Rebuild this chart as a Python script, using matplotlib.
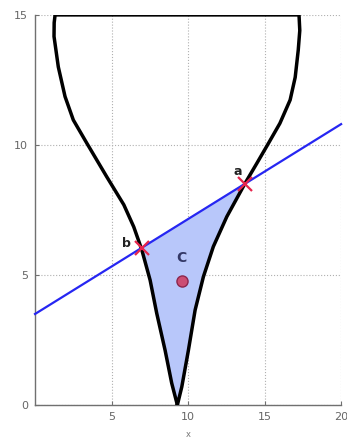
import matplotlib
matplotlib.use("Agg")
import matplotlib.pyplot as plt

# funnel boundary, both sides listed from the bottom tip upwards
left_x = [9.3, 8.93, 8.5, 7.95, 7.52, 6.97, 6.45, 5.8, 4.68, 3.38, 2.5, 1.96, 1.52, 1.24, 1.25, 1.31]
left_y = [0.0, 0.84, 2.1, 3.53, 4.8, 5.98, 6.85, 7.7, 8.78, 10.07, 10.96, 11.86, 13.0, 14.17, 14.7, 15.0]
right_x = [9.3, 9.59, 10.02, 10.46, 11.0, 11.65, 12.53, 13.73, 14.5, 15.25, 16.0, 16.67, 17.0, 17.2, 17.3, 17.25]
right_y = [0.0, 0.7, 2.1, 3.65, 4.93, 6.09, 7.24, 8.53, 9.3, 10.06, 10.83, 11.73, 12.6, 13.65, 14.4, 15.0]

# cutting line
line_x = [0, 20]
line_y = [3.5, 10.8]

# intersection points and interior point
pt_a = (13.7, 8.5)
pt_b = (6.97, 6.04)
pt_c = (9.6, 4.75)

fig = plt.figure(figsize=(3.47, 4.42), dpi=100)
ax = fig.add_axes([0.101, 0.0837, 0.882, 0.8826])

# shaded region below the line inside the funnel
poly_x = [pt_b[0]]
poly_y = [pt_b[1]]
for x, y in reversed(list(zip(left_x, left_y))):
    if y < pt_b[1] - 0.05:
        poly_x.append(x)
        poly_y.append(y)
for x, y in zip(right_x, right_y):
    if 0 < y < pt_a[1] - 0.05:
        poly_x.append(x)
        poly_y.append(y)
poly_x.append(pt_a[0])
poly_y.append(pt_a[1])
ax.fill(poly_x, poly_y, color=(0.72, 0.78, 0.98), zorder=1)

# outline: left side up, across the top, right side down
out_x = left_x + right_x[::-1]
out_y = left_y + right_y[::-1]
ax.plot(out_x, out_y, color='black', lw=2.5, solid_joinstyle='round', zorder=3)

ax.plot(line_x, line_y, color=(0.15, 0.15, 0.95), lw=1.6, zorder=4, clip_on=False)

for p in (pt_a, pt_b):
    ax.plot(*p, marker='x', color=(0.9, 0.15, 0.3), ms=10, mew=1.6, zorder=5)

ax.plot(*pt_c, marker='o', ms=8, color=(0.8, 0.3, 0.45),
        mec=(0.55, 0.15, 0.3), mew=1.0, zorder=5)

ax.text(pt_a[0] - 0.7, pt_a[1] + 0.35, 'a', fontsize=9, fontweight='bold', color='#222222')
ax.text(pt_b[0] - 1.3, pt_b[1] + 0.05, 'b', fontsize=9, fontweight='bold', color='#222222')
ax.text(pt_c[0] - 0.4, pt_c[1] + 0.75, 'C', fontsize=10, fontweight='bold', color=(0.2, 0.22, 0.4))

ax.set_xlim(0, 20)
ax.set_ylim(0, 15)
ax.set_xticks([5, 10, 15, 20])
ax.set_yticks([0, 5, 10, 15])
ax.grid(True, linestyle=':', color='#b0b0b0', lw=0.8)
ax.set_axisbelow(True)
for side in ('top', 'right'):
    ax.spines[side].set_visible(False)
for side in ('left', 'bottom'):
    ax.spines[side].set_color('#707070')
    ax.spines[side].set_linewidth(1.0)
ax.tick_params(direction='in', length=3, pad=5, colors='#707070', labelsize=8, labelcolor='#666666')
ax.set_xlabel('x', fontsize=6, color='#777777', labelpad=6)

fig.savefig('out.png', dpi=100)
